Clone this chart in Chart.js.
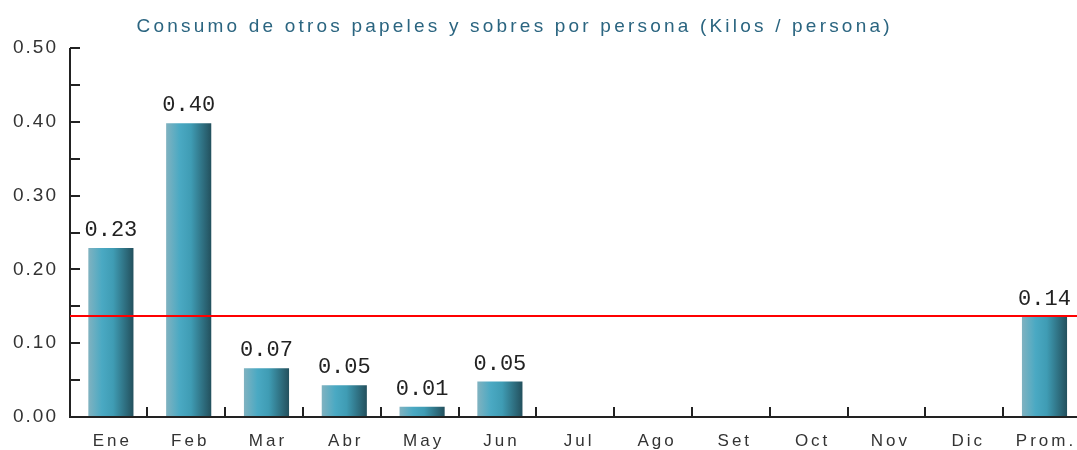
<!DOCTYPE html>
<html>
<head>
<meta charset="utf-8">
<script src="https://cdn.jsdelivr.net/npm/chart.js@4"></script>
<style>
  html, body { margin: 0; padding: 0; background: #fff; }
  #wrap { width: 1077px; height: 450px; }
</style>
</head>
<body>
<div id="wrap"><canvas id="chart" width="1077" height="450"></canvas></div>
<script>
var title = "Consumo de otros papeles y sobres por persona (Kilos / persona)";
var months = ["Ene", "Feb", "Mar", "Abr", "May", "Jun", "Jul", "Ago", "Set", "Oct", "Nov", "Dic", "Prom."];
var values = [0.229, 0.398, 0.066, 0.043, 0.014, 0.048, null, null, null, null, null, null, 0.136];
var valueLabels = ["0.23", "0.40", "0.07", "0.05", "0.01", "0.05", "", "", "", "", "", "", "0.14"];
var yTicks = [0, 0.1, 0.2, 0.3, 0.4, 0.5];
var average = 0.137;

var ctxEl = document.getElementById("chart");

function barGradient(context) {
    var chart = context.chart;
    var xs = chart.scales.x;
    if (!xs || !chart.chartArea) return "#48a6c0";
    var step = (xs.right - xs.left) / months.length;
    var cx = xs.getPixelForValue(context.dataIndex);
    var half = step * 0.58 / 2;
    var g = chart.ctx.createLinearGradient(cx - half, 0, cx + half, 0);
    g.addColorStop(0, "#80b2c0");
    g.addColorStop(0.3, "#4aa9c3");
    g.addColorStop(0.55, "#3f9cb4");
    g.addColorStop(1, "#23505d");
    return g;
}

function spacedText(c, text, x, y, spacing) {
    c.letterSpacing = spacing + "px";
    // letterSpacing adds trailing space too; shift to keep the centre
    c.fillText(text, x + spacing / 2, y);
    c.letterSpacing = "0px";
}

var extras = {
    id: "extras",
    afterLayout: function (chart) {
        // the category band runs a little past the canvas edge in the original
        var x = chart.scales.x;
        x.left = 72;
        x.right = 72 + 13 * 77.8;
        x.configure();
    },
    afterDatasetsDraw: function (chart) {
        var c = chart.ctx;
        var area = chart.chartArea;
        var x = chart.scales.x;
        var y = chart.scales.y;
        c.save();

        // tick marks inside the axes
        c.strokeStyle = "#222";
        c.lineWidth = 2;
        for (var v = 0.05; v <= 0.5001; v += 0.05) {
            var py = Math.round(y.getPixelForValue(v));
            c.beginPath();
            c.moveTo(area.left, py);
            c.lineTo(area.left + 10, py);
            c.stroke();
        }
        var step = (x.right - x.left) / months.length;
        for (var i = 1; i < months.length; i++) {
            var px = Math.round(x.left + step * i - 2.5);
            c.beginPath();
            c.moveTo(px, area.bottom);
            c.lineTo(px, area.bottom - 10);
            c.stroke();
        }

        // axis lines
        c.beginPath();
        c.moveTo(area.left, area.top);
        c.lineTo(area.left, area.bottom);
        c.lineTo(chart.width, area.bottom);
        c.stroke();

        // average line
        var ay = Math.round(y.getPixelForValue(average));
        c.strokeStyle = "#ff0000";
        c.lineWidth = 2;
        c.beginPath();
        c.moveTo(area.left, ay);
        c.lineTo(chart.width, ay);
        c.stroke();

        // y tick labels
        c.fillStyle = "#333";
        c.font = "19px 'Liberation Sans'";
        c.textAlign = "right";
        c.textBaseline = "middle";
        yTicks.forEach(function (t) {
            c.letterSpacing = "2px";
            c.fillText(t.toFixed(2), area.left - 12, y.getPixelForValue(t));
            c.letterSpacing = "0px";
        });

        // x tick labels
        c.textAlign = "center";
        c.font = "17px 'Liberation Sans'";
        months.forEach(function (m, i) {
            spacedText(c, m, x.getPixelForValue(i), area.bottom + 24, 3);
        });

        // value labels
        c.fillStyle = "#222";
        c.font = "22px 'Liberation Mono'";
        c.textBaseline = "alphabetic";
        var meta = chart.getDatasetMeta(0);
        meta.data.forEach(function (bar, i) {
            if (values[i] == null) return;
            c.fillText(valueLabels[i], bar.x, bar.y - 12);
        });

        // title
        c.fillStyle = "#2b6580";
        c.font = "19px 'Liberation Sans'";
        c.textBaseline = "middle";
        var w = c.measureText(title).width;
        var sp = (753 - w) / (title.length - 1);
        spacedText(c, title, 513, 27, sp);
        c.restore();
    }
};

new Chart(ctxEl, {
    type: "bar",
    data: {
        labels: months,
        datasets: [{
            data: values,
            backgroundColor: barGradient,
            borderWidth: 0,
            clip: false,
            categoryPercentage: 1,
            barPercentage: 0.58
        }]
    },
    options: {
        responsive: false,
        animation: false,
        layout: { padding: { top: 48, right: 0, left: 0, bottom: 0 } },
        plugins: { legend: { display: false }, tooltip: { enabled: false } },
        scales: {
            x: {
                grid: { display: false, drawTicks: false },
                border: { display: false },
                ticks: { display: false },
                afterFit: function (s) { s.height = 33; }
            },
            y: {
                min: 0,
                max: 0.5,
                grid: { display: false, drawTicks: false },
                border: { display: false },
                ticks: { display: false, stepSize: 0.05 },
                afterFit: function (s) { s.width = 70; }
            }
        }
    },
    plugins: [extras]
});
</script>
</body>
</html>
